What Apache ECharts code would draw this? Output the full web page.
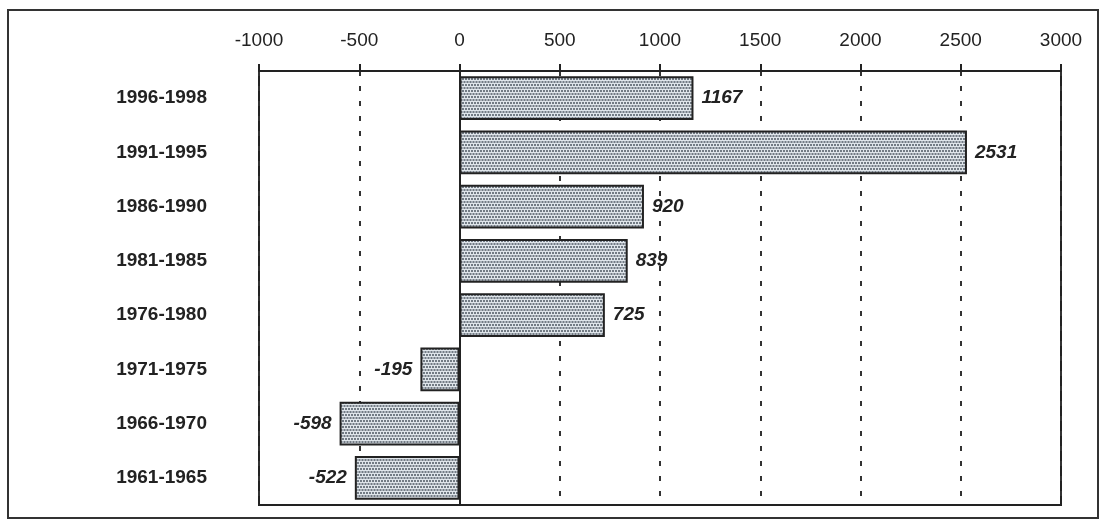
<!DOCTYPE html>
<html>
<head>
    <meta charset="utf-8">
    <title>bar</title>
    <script src="https://cdn.jsdelivr.net/npm/echarts@6/dist/echarts.min.js"></script>
    <style>
        html, body { margin: 0; padding: 0; background: #fff; }
        #main { width: 1107px; height: 528px; }
    </style>
</head>
<body>
<div id="main"></div>
<script type="text/javascript">
    // data, top to bottom
    var periods = ['1996-1998', '1991-1995', '1986-1990', '1981-1985', '1976-1980', '1971-1975', '1966-1970', '1961-1965'];
    var values = [1167, 2531, 920, 839, 725, -195, -598, -522];
    var xTicks = [-1000, -500, 0, 500, 1000, 1500, 2000, 2500, 3000];

    // dotted grey fill like the print (3px checker)
    var tile = document.createElement('canvas');
    tile.width = 6;
    tile.height = 6;
    var ctx = tile.getContext('2d');
    ctx.fillStyle = '#dfe5ea';
    ctx.fillRect(0, 0, 6, 6);
    ctx.fillStyle = '#727b84';
    ctx.fillRect(0, 0, 2, 2);
    ctx.fillRect(3, 0, 2, 2);
    ctx.fillRect(1.5, 3, 2, 2);
    ctx.fillRect(4.5, 3, 2, 2);
    ctx.fillRect(-1.5, 3, 2, 2);

    var barData = [];
    for (var i = 0; i < values.length; i++) {
        barData.push({
            value: values[i],
            label: { position: values[i] < 0 ? 'left' : 'right' }
        });
    }

    var txt = '#222';
    var font = 'Arial, "Liberation Sans", sans-serif';

    var myChart = echarts.init(document.getElementById('main'));
    var option = {
        animation: false,
        backgroundColor: '#fff',
        graphic: [{
            type: 'rect',
            shape: { x: 8, y: 10, width: 1090, height: 508 },
            style: { fill: 'none', stroke: '#333', lineWidth: 2 }
        }],
        grid: {
            left: 259, right: 46, top: 71, bottom: 23,
            show: true, borderColor: '#222', borderWidth: 2
        },
        xAxis: {
            type: 'value',
            position: 'top',
            min: xTicks[0],
            max: xTicks[xTicks.length - 1],
            interval: 500,
            axisLine: { show: true, lineStyle: { color: '#222', width: 2 } },
            axisTick: { show: true, length: 7, lineStyle: { color: '#222', width: 2 } },
            axisLabel: {
                color: txt, fontSize: 19, fontFamily: font, margin: 21,
                formatter: function (v) { return String(v); }
            },
            splitLine: { show: true, lineStyle: { color: '#333', width: 2, type: [5, 10] } }
        },
        yAxis: {
            type: 'category',
            data: periods,
            inverse: true,
            axisLine: { show: true, lineStyle: { color: '#222', width: 2 } },
            axisTick: { show: false },
            axisLabel: { color: txt, fontSize: 19, fontWeight: 'bold', fontFamily: font, margin: 52 }
        },
        series: [{
            type: 'bar',
            data: barData,
            barCategoryGap: '19%',
            itemStyle: {
                color: { image: tile, repeat: 'repeat' },
                borderColor: '#222',
                borderWidth: 2
            },
            label: {
                show: true,
                distance: 8,
                color: txt,
                fontSize: 19,
                fontWeight: 'bold',
                fontStyle: 'italic',
                fontFamily: font
            },
            markLine: {
                silent: true,
                symbol: 'none',
                label: { show: false },
                lineStyle: { color: '#222', width: 2, type: 'solid' },
                data: [{ xAxis: 0 }]
            }
        }]
    };
    myChart.setOption(option);
</script>
</body>
</html>
